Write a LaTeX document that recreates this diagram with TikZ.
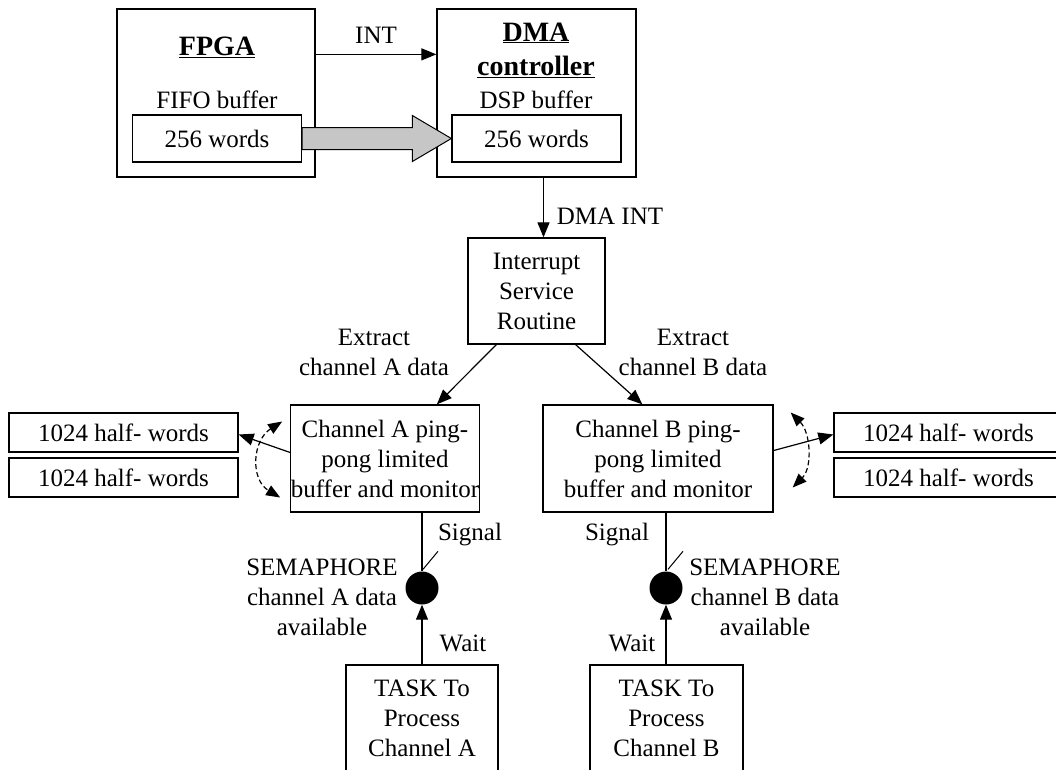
\documentclass[tikz,border=0pt]{standalone}
\usepackage{fontspec}
\setmainfont{Liberation Serif}
\usetikzlibrary{arrows.meta, positioning, calc}
\newcommand{\dgfont}{\fontsize{25}{30}\selectfont}
\newcommand{\dghead}{\fontsize{28}{32}\selectfont\bfseries}
\tikzset{
  n/.style={draw, line width=1.3pt, inner sep=0pt, align=center, font=\dgfont},
  t/.style={inner sep=0pt, align=center, font=\dgfont},
  hd/.style={t, font=\dghead},
  a/.style={-{Triangle[length=15pt,width=12pt]}, line width=1.2pt},
  ad/.style={{Triangle[length=14pt,width=11pt]}-{Triangle[length=14pt,width=11pt]}, line width=1.2pt, dash pattern=on 5pt off 3pt},
  sem/.style={circle, fill=black, minimum size=33pt, inner sep=0pt},
  hw/.style={n, minimum width=229pt, minimum height=39pt},
}

\begin{document}
\begin{tikzpicture}[x=1pt, y=-1pt]
\useasboundingbox[fill=white] (0,0) rectangle (1056,769);
% top: FPGA and DMA
\node[n, minimum width=198pt, minimum height=168pt] (fpga) at (216,93) {};
\node[hd] (fpgat) at (217,47) {\underline{FPGA}};
\node[t] (fifot) at (217,100) {FIFO buffer};
\node[n, minimum width=169pt, minimum height=47pt] (fbuf) at (217,138.5) {256 words};
\node[n, minimum width=199pt, minimum height=168pt] (dma) at (536.5,93) {};
\node[hd] (dmat) at (536,33) {\underline{DMA}};
\node[hd] (ctrlt) at (536,67) {\underline{controller}};
\node[t] (dspt) at (536,100) {DSP buffer};
\node[n, minimum width=169pt, minimum height=47pt] (dbuf) at (536.5,138.5) {256 words};
\draw[a] ($(fpga.north east)+(0,46)$) -- node[t, midway, above=10pt] {INT} ($(dma.north west)+(0,46)$);
\filldraw[fill=gray!45, line width=1pt] ($(fbuf.east)+(0,-11)$) -- ($(dbuf.west)+(-39,-11)$) -- ($(dbuf.west)+(-39,-23)$)
  -- (dbuf.west) -- ($(dbuf.west)+(-39,23)$) -- ($(dbuf.west)+(-39,11)$) -- ($(fbuf.east)+(0,11)$) -- cycle;
% ISR
\node[n, minimum width=137pt, minimum height=106pt] (isr) at (536.5,291) {Interrupt\\Service\\Routine};
\draw[a] ($(dma.south)+(7,0)$) -- ($(isr.north)+(7,0)$);
\node[t] (dmaint) at (610,216) {DMA INT};
% channel buffers
\node[n, minimum width=170pt, minimum height=107pt] (cha) at (385,458.5) {Channel A ping-\\pong limited\\buffer and monitor};
\node[n, minimum width=230pt, minimum height=107pt] (chb) at (658,458.5) {Channel B ping-\\pong limited\\buffer and monitor};
\draw[a] ($(isr.south west)+(29,0)$) -- ($(cha.north east)+(-43,0)$);
\draw[a] ($(isr.south east)+(-30,0)$) -- ($(chb.north west)+(100,0)$);
\node[t] (exa) at (374,352) {Extract\\channel A data};
\node[t] (exb) at (693,352) {Extract\\channel B data};
% half-word buffers
\node[hw] (hwa1) at (123.5,432.5) {1024 half- words};
\node[hw] (hwa2) at (123.5,477.5) {1024 half- words};
\node[hw] (hwb1) at (948.5,432.5) {1024 half- words};
\node[hw] (hwb2) at (948.5,477.5) {1024 half- words};
\draw[a] ($(cha.west)+(0,-6)$) -- ($(hwa1.east)+(0,2)$);
\draw[a] ($(chb.east)+(0,-8)$) -- ($(hwb1.west)+(0,2)$);
\draw[ad] ($(cha.west)+(-8,-37)$) .. controls +(-30,19) and +(-30,-18) .. ($(cha.west)+(-10,39)$);
\draw[ad] ($(chb.east)+(17,-46)$) .. controls +(20,20) and +(20,-20) .. ($(chb.east)+(19,29)$);
% semaphores
\node[sem] (sema) at (422,588) {};
\node[sem] (semb) at (666,588) {};
\draw[line width=1.3pt] (sema |- cha.south) -- (sema.north);
\draw[line width=1.3pt] (semb |- chb.south) -- (semb.north);
\draw[line width=1pt] ($(sema.north)+(1,-2)$) -- ++(15,-18);
\draw[line width=1pt] ($(semb.north)+(2,-2)$) -- ++(15,-18);
\node[t] (siga) at (470,535) {Signal};
\node[t] (sigb) at (617,535) {Signal};
\node[t] (semta) at (322,597) {SEMAPHORE\\channel A data\\available};
\node[t] (semtb) at (765,597) {SEMAPHORE\\channel B data\\available};
% tasks
\node[n, minimum width=152pt, minimum height=125pt] (taska) at (422,727.5) {};
\node[n, minimum width=153pt, minimum height=125pt] (taskb) at (666.5,727.5) {};
\node[t] (taskat) at (422,718) {TASK To\\Process\\Channel A};
\node[t] (taskbt) at (666.5,718) {TASK To\\Process\\Channel B};
\draw[a] (taska.north -| sema) -- (sema.south);
\draw[a] (taskb.north -| semb) -- (semb.south);
\node[t] (waita) at (463,643) {Wait};
\node[t] (waitb) at (632,643) {Wait};
\end{tikzpicture}
\end{document}
